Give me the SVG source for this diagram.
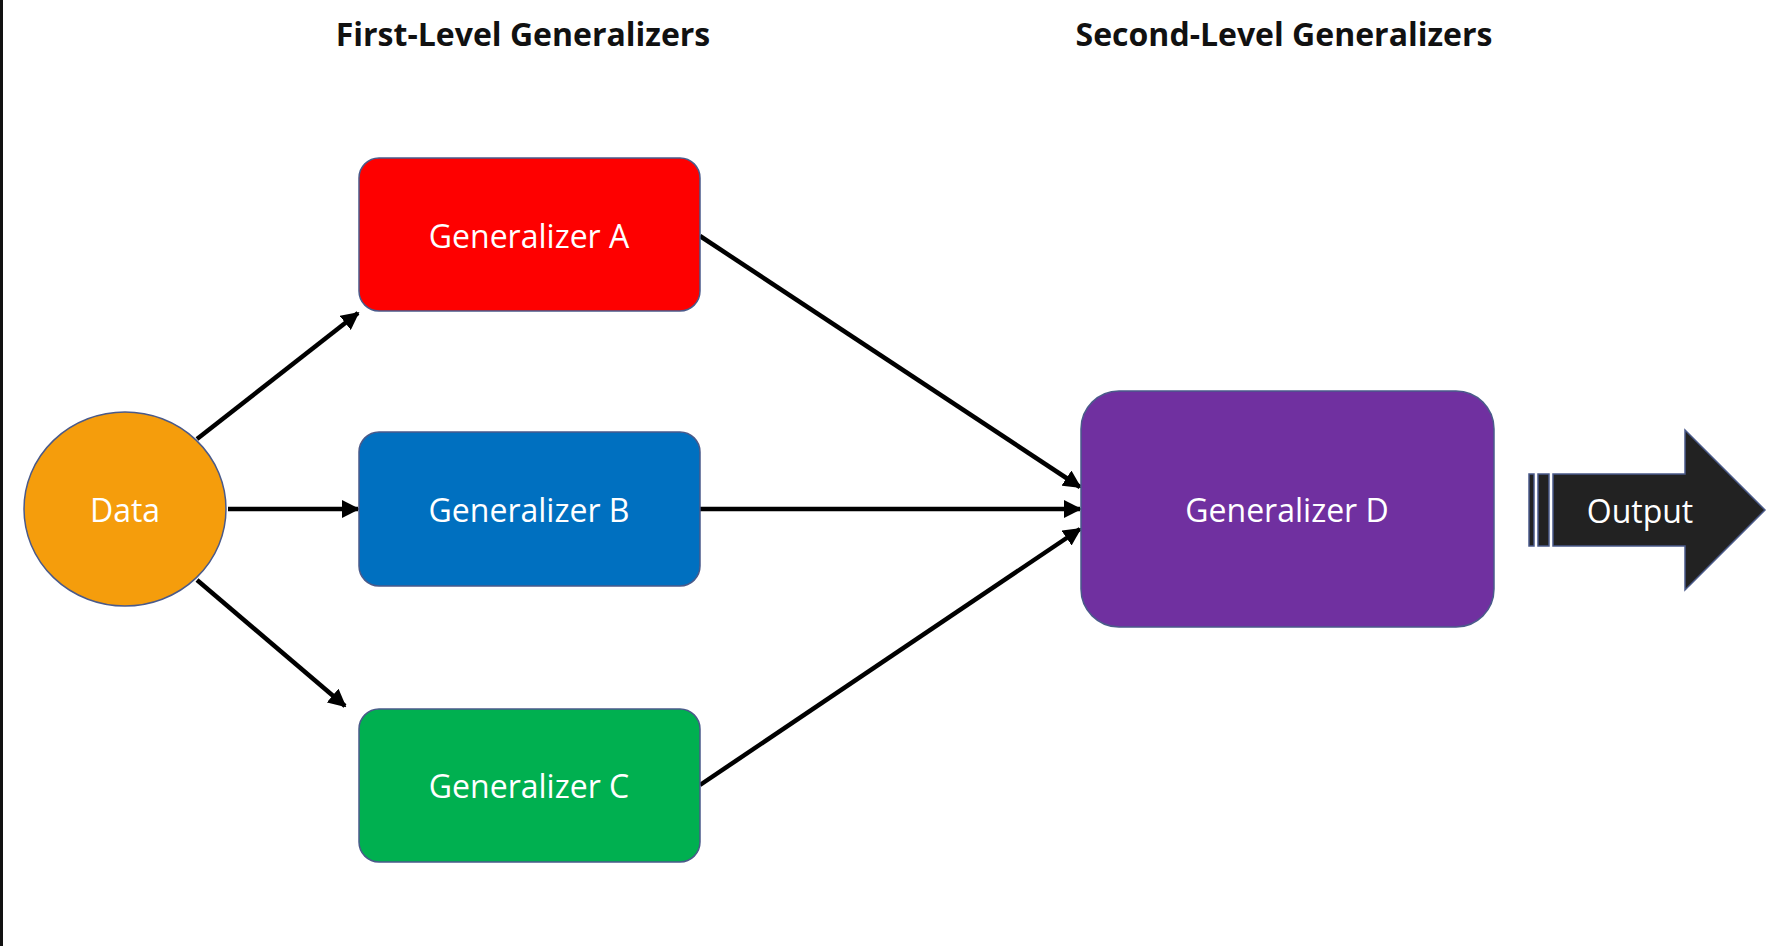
<svg xmlns="http://www.w3.org/2000/svg" width="1784" height="946" viewBox="0 0 1784 946">
<style>
.t{font-family:"Open Sans","Liberation Sans",sans-serif;font-size:32px;font-weight:bold;fill:#111;text-anchor:middle}
.l{font-family:"Open Sans","Liberation Sans",sans-serif;font-size:32px;fill:#fff;text-anchor:middle;dominant-baseline:central}
.b{stroke:#4a5a8a;stroke-width:1.5}
.c{stroke:#000;stroke-width:4.5;fill:none;marker-end:url(#ah)}
</style>
<defs><marker id="ah" viewBox="0 0 10 10" refX="9" refY="5" markerWidth="4" markerHeight="4" orient="auto"><path d="M0,0L10,5L0,10z" fill="#000"/></marker></defs>
<rect width="1784" height="946" fill="#fff"/>
<rect x="0" y="0" width="3" height="946" fill="#111"/>
<text class="t" x="523" y="46">First-Level Generalizers</text>
<text class="t" x="1284" y="46">Second-Level Generalizers</text>
<g id="connectors">
<line class="c" x1="197" y1="439" x2="358" y2="313"/>
<line class="c" x1="228" y1="509" x2="358" y2="509"/>
<line class="c" x1="197" y1="580" x2="345" y2="706"/>
<line class="c" x1="700" y1="236" x2="1080" y2="487"/>
<line class="c" x1="700" y1="509" x2="1080" y2="509"/>
<line class="c" x1="700" y1="785" x2="1080" y2="529"/>
</g>
<g id="data"><ellipse class="b" cx="125" cy="509" rx="101" ry="97" fill="#f59d0c"/><text class="l" x="125" y="509">Data</text></g>
<g id="genA"><rect class="b" x="359" y="158" width="341" height="153" rx="20" fill="#fe0000"/><text class="l" x="529" y="235">Generalizer A</text></g>
<g id="genB"><rect class="b" x="359" y="432" width="341" height="154" rx="20" fill="#0070c0"/><text class="l" x="529" y="509">Generalizer B</text></g>
<g id="genC"><rect class="b" x="359" y="709" width="341" height="153" rx="20" fill="#00b050"/><text class="l" x="529" y="785">Generalizer C</text></g>
<g id="genD"><rect class="b" x="1081" y="391" width="413" height="236" rx="38" fill="#7030a0"/><text class="l" x="1287" y="509">Generalizer D</text></g>
<g id="output">
<rect class="b" x="1529" y="474" width="5" height="72" fill="#222"/>
<rect class="b" x="1538" y="474" width="11" height="72" fill="#222"/>
<path class="b" d="M1553,474H1685V430L1765,510L1685,590V546H1553Z" fill="#222"/>
<text class="l" x="1640" y="510">Output</text>
</g>
</svg>
